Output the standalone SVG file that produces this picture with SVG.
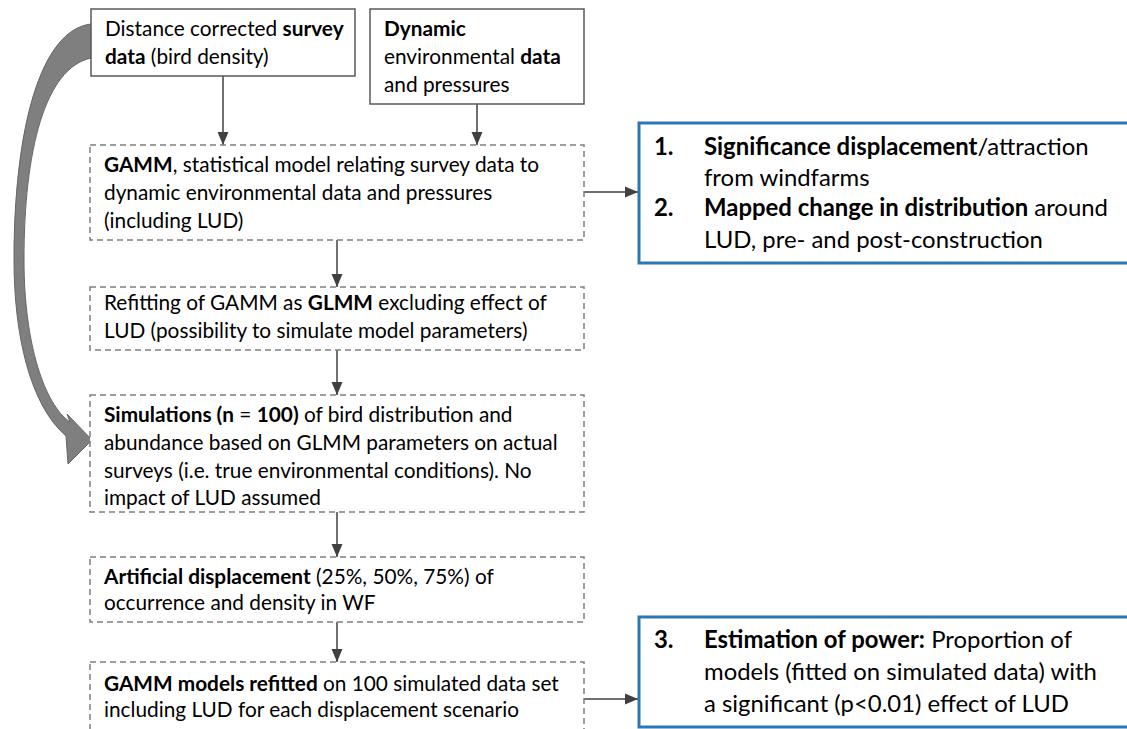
<svg xmlns="http://www.w3.org/2000/svg" width="1127" height="729" viewBox="0 0 1127 729">
<style>
text{font-family:Lato,"Open Sans","Liberation Sans",sans-serif;fill:#000}
.t{font-size:20.8px}
.tb{font-size:23.9px}
.b{font-weight:bold}
.solid{fill:#fff;stroke:#595959;stroke-width:1.5}
.dash{fill:#fff;stroke:#7f7f7f;stroke-width:1.5;stroke-dasharray:6 4}
.blue{fill:#fff;stroke:#2e75b6;stroke-width:3}
.conn{fill:none;stroke:#404040;stroke-width:1.5}
</style>
<defs>
<marker id="ah" markerUnits="userSpaceOnUse" markerWidth="14" markerHeight="14" viewBox="0 0 14 14" refX="13" refY="7" orient="auto">
<path d="M0,1.5 L13,7 L0,12.5 Z" fill="#404040"/>
</marker>
</defs>

<g id="curved-arrow">
<path d="M91,24 C40,30 14,130 14,260 C14,335 30,405 66,436 L68,464 L92,440 L67,414 L70,422 C45,405 24,345 24,260 C24,150 45,68 91,58 Z" fill="#7f7f7f" stroke="#666" stroke-width="1"/>
</g>

<g id="connectors">
<line class="conn" x1="223" y1="76" x2="223" y2="145" marker-end="url(#ah)"/>
<line class="conn" x1="477" y1="104" x2="477" y2="145" marker-end="url(#ah)"/>
<line class="conn" x1="337" y1="240" x2="337" y2="287" marker-end="url(#ah)"/>
<line class="conn" x1="337" y1="350" x2="337" y2="395" marker-end="url(#ah)"/>
<line class="conn" x1="337" y1="512" x2="337" y2="557" marker-end="url(#ah)"/>
<line class="conn" x1="337" y1="622" x2="337" y2="662" marker-end="url(#ah)"/>
<line class="conn" x1="584" y1="192" x2="638" y2="192" marker-end="url(#ah)"/>
<line class="conn" x1="584" y1="699" x2="638" y2="699" marker-end="url(#ah)"/>
</g>

<g id="survey-data">
<rect class="solid" x="91" y="9" width="264" height="67"/>
<text class="t" x="105" y="36">Distance corrected <tspan class="b">survey</tspan></text>
<text class="t" x="105" y="64"><tspan class="b">data</tspan> (bird density)</text>
</g>

<g id="env-data">
<rect class="solid" x="370" y="9" width="214" height="95"/>
<text class="t" x="384" y="36"><tspan class="b">Dynamic</tspan></text>
<text class="t" x="384" y="64">environmental <tspan class="b">data</tspan></text>
<text class="t" x="384" y="92">and pressures</text>
</g>

<g id="gamm">
<rect class="dash" x="90" y="145" width="494" height="95"/>
<text class="t" x="104" y="172"><tspan class="b">GAMM</tspan>, statistical model relating survey data to</text>
<text class="t" x="104" y="200">dynamic environmental data and pressures</text>
<text class="t" x="104" y="228">(including LUD)</text>
</g>

<g id="refit">
<rect class="dash" x="90" y="287" width="494" height="63"/>
<text class="t" x="104" y="310">Refitting of GAMM as <tspan class="b">GLMM</tspan> excluding effect of</text>
<text class="t" x="104" y="338">LUD (possibility to simulate model parameters)</text>
</g>

<g id="simulations">
<rect class="dash" x="90" y="395" width="494" height="117"/>
<text class="t" x="104" y="422"><tspan class="b">Simulations (n</tspan> = <tspan class="b">100)</tspan> of bird distribution and</text>
<text class="t" x="104" y="450">abundance based on GLMM parameters on actual</text>
<text class="t" x="104" y="478">surveys (i.e. true environmental conditions). No</text>
<text class="t" x="104" y="505">impact of LUD assumed</text>
</g>

<g id="artificial">
<rect class="dash" x="90" y="557" width="494" height="65"/>
<text class="t" x="104" y="584"><tspan class="b">Artificial displacement</tspan> (25%, 50%, 75%) of</text>
<text class="t" x="104" y="610">occurrence and density in WF</text>
</g>

<g id="gamm-refitted">
<rect class="dash" x="90" y="662" width="494" height="100"/>
<text class="t" x="104" y="691"><tspan class="b">GAMM models refitted</tspan> on 100 simulated data set</text>
<text class="t" x="104" y="717">including LUD for each displacement scenario</text>
</g>

<g id="result-1-2">
<rect class="blue" x="639" y="123" width="500" height="140"/>
<text class="tb" x="654" y="155"><tspan class="b">1.</tspan></text>
<text class="tb" x="704" y="155"><tspan class="b">Significance displacement</tspan>/attraction</text>
<text class="tb" x="704" y="186">from windfarms</text>
<text class="tb" x="654" y="216"><tspan class="b">2.</tspan></text>
<text class="tb" x="704" y="216"><tspan class="b">Mapped change in distribution</tspan> around</text>
<text class="tb" x="704" y="248">LUD, pre- and post-construction</text>
</g>

<g id="result-3">
<rect class="blue" x="639" y="617" width="500" height="110"/>
<text class="tb" x="654" y="648"><tspan class="b">3.</tspan></text>
<text class="tb" x="704" y="648"><tspan class="b">Estimation of power:</tspan> Proportion of</text>
<text class="tb" x="704" y="680">models (fitted on simulated data) with</text>
<text class="tb" x="704" y="712">a significant (p&lt;0.01) effect of LUD</text>
</g>
</svg>
